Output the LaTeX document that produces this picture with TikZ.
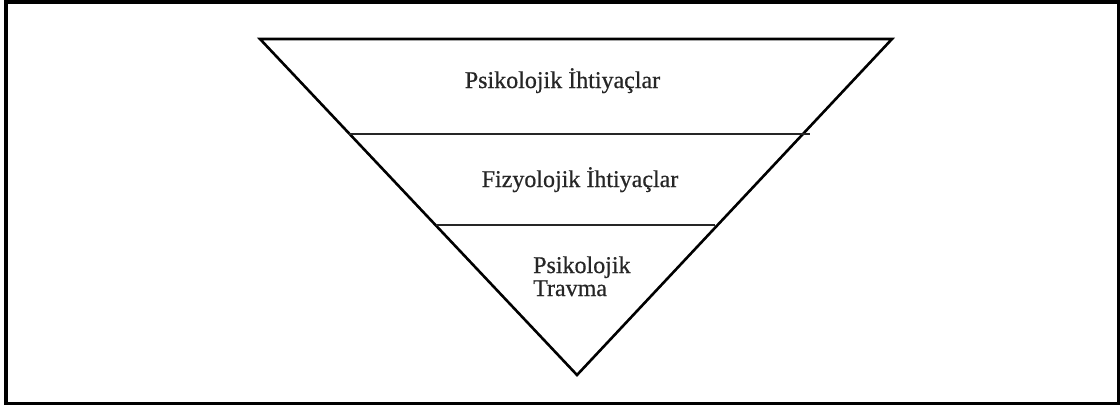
\documentclass[tikz,border=0pt]{standalone}
\usepackage{fontspec}
\setmainfont{Liberation Serif}
\newfontfamily\labelfont[FakeBold=0.6]{Liberation Serif}
\begin{document}
\begin{tikzpicture}[x=1pt,y=-1pt,
  frame/.style={draw=black,line width=3.5pt},
  pyramid/.style={draw=black,line width=2.6pt,line join=miter},
  divider/.style={draw=black!85,line width=2.2pt},
  levellabel/.style={inner sep=0pt,font=\labelfont\fontsize{24}{23}\selectfont,text=black!85}]
  \useasboundingbox (0,0) rectangle (1120,405);
  \fill[white] (0,0) rectangle (1120,405);
  % outer frame
  \draw[frame] (6,2) rectangle (1118.5,403.5);
  % inverted triangle
  \coordinate (tl) at (260,39);
  \coordinate (tr) at (892,39);
  \coordinate (apex) at (577,375);
  \draw[pyramid] (tl) -- (tr) -- (apex) -- cycle;
  % level dividers
  \coordinate (d1l) at (349,134);
  \coordinate (d1r) at (810,134);
  \coordinate (d2l) at (436,225);
  \coordinate (d2r) at (715,225);
  \draw[divider] (d1l) -- (d1r);
  \draw[divider] (d2l) -- (d2r);
  % level labels
  \node[levellabel,anchor=base] (top) at (562.5,88) {Psikolojik İhtiyaçlar};
  \node[levellabel,anchor=base] (mid) at (580,187) {Fizyolojik İhtiyaçlar};
  \node[levellabel,anchor=base west] (bottom) at (533,273)
    {\vtop{\hbox{Psikolojik}\hbox{Travma}}};
\end{tikzpicture}
\end{document}
